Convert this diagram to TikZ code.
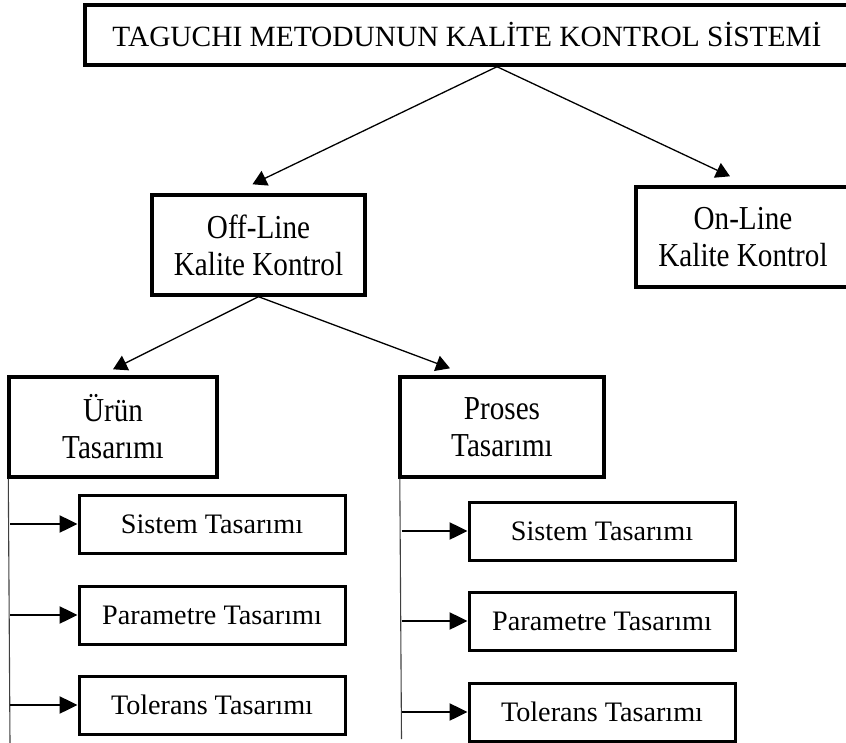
\documentclass[tikz,border=0pt]{standalone}
\usepackage{fontspec}
\setmainfont{Liberation Serif}
\newfontfamily\condserif{Liberation Serif}[FakeStretch=0.87]
\usetikzlibrary{positioning, arrows.meta}

\begin{document}
\begin{tikzpicture}[
  x=1pt, y=-1pt, >={Triangle[length=14pt,width=16pt]}, node distance=30pt,
  mainbox/.style={draw, line width=3.4pt, inner sep=0pt},
  midbox/.style={mainbox, align=center, minimum height=100pt, font=\condserif\fontsize{33.5}{37}\selectfont},
  subbox/.style={draw, line width=3pt, inner sep=0pt, minimum width=266pt, minimum height=58pt, font=\fontsize{28.2}{34}\selectfont},
  link/.style={->, line width=1.3pt},
  feed/.style={-{Triangle[length=18pt,width=17pt]}, line width=2.5pt},
  rail/.style={line width=1.1pt, black!75}
]
\useasboundingbox (0,0) rectangle (846,743);

\node[mainbox, minimum width=764pt, minimum height=60pt, font=\fontsize{29.4}{35}\selectfont] (top) at (467,35) {TAGUCHI METODUNUN KALİTE KONTROL SİSTEMİ};

\node[midbox, minimum width=213pt] (offline) at (258.5,245) {Off-Line\\Kalite Kontrol};
\node[midbox, minimum width=214pt] (online) at (743,237) {On-Line\\Kalite Kontrol};

\draw[link] ([xshift=30pt]top.south) -- ([shift={(-6,-9)}]offline.north);
\draw[link] ([xshift=30pt]top.south) -- ([shift={(-13,-9)}]online.north);

\node[midbox, minimum width=208pt] (urun) at (113,427) {Ürün\\Tasarımı};
\node[midbox, minimum width=204pt] (proses) at (502,427) {Proses\\Tasarımı};

\draw[link] (offline.south) -- ([shift={(0,-6)}]urun.north);
\draw[link] (offline.south) -- ([shift={(-52,-7)}]proses.north);

\coordinate (uend) at (10,743);
\coordinate (pend) at (401.5,739);
\draw[rail] ([xshift=1pt]urun.south west) -- (uend);
\draw[rail] ([xshift=1.5pt]proses.south west) -- (pend);

\node[subbox] (usis) at (212,524) {Sistem Tasarımı};
\node[subbox, below=30pt of usis] (upar) {Parametre Tasarımı};
\node[subbox, below=29pt of upar] (utol) {Tolerans Tasarımı};

\node[subbox] (psis) at (602,531) {Sistem Tasarımı};
\node[subbox, below=29pt of psis] (ppar) {Parametre Tasarımı};
\node[subbox, below=30pt of ppar] (ptol) {Tolerans Tasarımı};

\draw[feed] (uend |- usis.west) -- (usis.west);
\draw[feed] (uend |- upar.west) -- (upar.west);
\draw[feed] (uend |- utol.west) -- (utol.west);

\draw[feed] (pend |- psis.west) -- (psis.west);
\draw[feed] (pend |- ppar.west) -- (ppar.west);
\draw[feed] (pend |- ptol.west) -- (ptol.west);

\end{tikzpicture}
\end{document}
